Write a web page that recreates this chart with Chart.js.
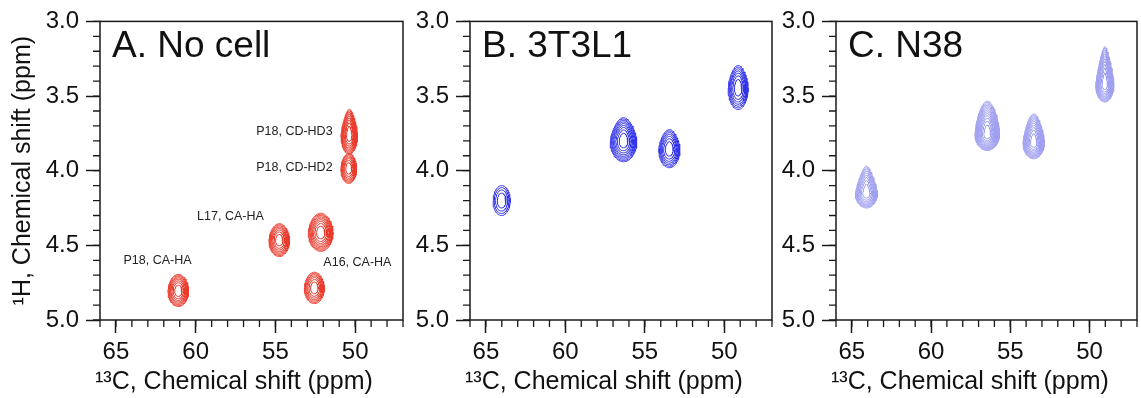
<!DOCTYPE html>
<html>
<head>
<meta charset="utf-8">
<script src="https://cdn.jsdelivr.net/npm/chart.js@4.4.1/dist/chart.umd.min.js"></script>
<style>
  html, body { margin: 0; padding: 0; background: #fff; }
  body { width: 1141px; height: 398px; position: relative; overflow: hidden; }
  canvas { position: absolute; top: 0; }
</style>
</head>
<body>
<canvas id="cA" width="405" height="398" style="left:0px"></canvas>
<canvas id="cB" width="372" height="398" style="left:405px"></canvas>
<canvas id="cC" width="364" height="398" style="left:777px"></canvas>
<script>
// ---- axis ticks ----
const xMajorTicks = [65, 60, 55, 50];
const yMajorTicks = [3.0, 3.5, 4.0, 4.5, 5.0];
const xRange = [47, 66];
const yRange = [3.0, 5.0];
const panelTitles = ['A. No cell', 'B. 3T3L1', 'C. N38'];
const xTitle = '¹³C, Chemical shift (ppm)';
const yTitle = '¹H, Chemical shift (ppm)';

// ---- Panel A: No cell (peak centres, ppm) ----
const peaksA_c13 = [50.37, 50.40, 54.76, 52.16, 52.56, 61.09];
const peaksA_h1  = [3.76, 3.985, 4.465, 4.415, 4.785, 4.805];
const peaksA_wC  = [0.52, 0.50, 0.65, 0.78, 0.63, 0.65];
const peaksA_hUp = [0.17, 0.10, 0.11, 0.13, 0.105, 0.11];
const peaksA_hDn = [0.13, 0.10, 0.11, 0.125, 0.105, 0.105];
const peaksA_lev = [9, 7, 8, 9, 7, 8];
const peaksA_tap = [0.35, 0.1, 0.1, 0.1, 0.1, 0.05];

// annotations (panel A)
const labelsA      = ['P18, CD-HD3', 'P18, CD-HD2', 'L17, CA-HA', 'P18, CA-HA', 'A16, CA-HA'];
const labelsA_c13  = [53.81, 53.81, 57.82, 62.39, 49.86];
const labelsA_h1   = [3.735, 3.98, 4.31, 4.603, 4.616];

// ---- Panel B: 3T3L1 ----
const peaksB_c13 = [64.01, 56.34, 53.46, 49.13];
const peaksB_h1  = [4.20, 3.80, 3.855, 3.445];
const peaksB_wC  = [0.54, 0.84, 0.67, 0.63];
const peaksB_hUp = [0.10, 0.155, 0.13, 0.15];
const peaksB_hDn = [0.10, 0.14, 0.125, 0.145];
const peaksB_lev = [4, 9, 7, 7];
const peaksB_tap = [0.05, 0.25, 0.2, 0.2];

// ---- Panel C: N38 ----
const peaksC_c13 = [64.08, 56.45, 53.52, 49.03];
const peaksC_h1  = [4.15, 3.755, 3.81, 3.42];
const peaksC_wC  = [0.70, 0.78, 0.68, 0.58];
const peaksC_hUp = [0.18, 0.22, 0.19, 0.25];
const peaksC_hDn = [0.10, 0.11, 0.11, 0.12];
const peaksC_lev = [9, 13, 11, 11];
const peaksC_tap = [0.45, 0.2, 0.3, 0.5];

const FONT = '"Liberation Sans", Arial, Helvetica, sans-serif';

// contour ring outline around a peak centre (shape only)
function ring(cx, cy, w, hu, hd, f, taper) {
  const pts = [];
  const N = 72;
  for (let i = 0; i <= N; i++) {
    const t = (i / N) * Math.PI * 2;
    const s = Math.sin(t), c = Math.cos(t);
    const upper = s > 0;
    const wf = upper ? (1 - taper * s) : 1;
    pts.push({ x: cx + w * f * c * wf, y: upper ? cy - hu * f * s : cy - hd * f * s });
  }
  return pts;
}

function contourSets(c13, h1, wC, hUp, hDn, lev, tap, color) {
  const sets = [];
  for (let p = 0; p < c13.length; p++) {
    const n = lev[p];
    for (let k = 0; k < n; k++) {
      const f = Math.sqrt(1 - k / n);
      sets.push({
        data: ring(c13[p], h1[p], wC[p], hUp[p], hDn[p], f, tap[p]),
        showLine: true, borderColor: color, borderWidth: 1,
        pointRadius: 0, fill: false, tension: 0
      });
    }
  }
  return sets;
}

const framePlugin = {
  id: 'frame',
  afterDraw(chart, args, opts) {
    const { ctx, chartArea: a, scales } = chart;
    ctx.save();
    ctx.strokeStyle = '#1a1a1a';
    ctx.lineWidth = 1.5;
    ctx.strokeRect(a.left, a.top, a.right - a.left, a.bottom - a.top);
    // minor ticks
    ctx.lineWidth = 1.3;
    ctx.beginPath();
    for (let v = xRange[0]; v <= xRange[1]; v++) {
      const px = scales.x.getPixelForValue(v);
      ctx.moveTo(px, a.bottom); ctx.lineTo(px, a.bottom + 7);
    }
    for (let i = 0; i <= 20; i++) {
      const v = yRange[0] + i * 0.1;
      const py = scales.y.getPixelForValue(v);
      ctx.moveTo(a.left, py); ctx.lineTo(a.left - 7, py);
    }
    ctx.stroke();
    // panel title
    ctx.fillStyle = '#111';
    ctx.font = '37px ' + FONT;
    ctx.textBaseline = 'alphabetic';
    ctx.textAlign = 'left';
    ctx.fillText(opts.title, a.left + 12, 57);
    // x axis title
    ctx.font = '25px ' + FONT;
    ctx.fillText(xTitle, a.left - 5, 389);
    // annotations
    if (opts.labels) {
      ctx.font = '12.5px ' + FONT;
      ctx.textAlign = 'center';
      ctx.textBaseline = 'middle';
      ctx.fillStyle = '#222';
      opts.labels.forEach((t, i) => {
        ctx.fillText(t, scales.x.getPixelForValue(opts.lx[i]), scales.y.getPixelForValue(opts.ly[i]));
      });
    }
    ctx.restore();
  }
};

function makePanel(id, datasets, yWidth, rightPad, showYTitle, frameOpts) {
  return new Chart(document.getElementById(id), {
    type: 'scatter',
    data: { datasets },
    options: {
      animation: false, responsive: false, maintainAspectRatio: false,
      layout: { padding: { top: 18, right: rightPad, left: 0, bottom: 0 } },
      plugins: { legend: { display: false }, tooltip: { enabled: false }, frame: frameOpts },
      scales: {
        x: {
          type: 'linear', position: 'bottom', min: xRange[0], max: xRange[1], reverse: true,
          afterBuildTicks: s => { s.ticks = xMajorTicks.map(v => ({ value: v })); },
          afterFit: s => { s.height = 78; },
          ticks: { color: '#111', font: { size: 24, family: FONT }, padding: 5, maxRotation: 0, autoSkip: false,
                   callback: v => String(v) },
          grid: { drawOnChartArea: false, drawTicks: true, tickLength: 13, tickWidth: 1.5, tickColor: '#1a1a1a' },
          border: { display: false },
          title: { display: false }
        },
        y: {
          type: 'linear', position: 'left', min: yRange[0], max: yRange[1], reverse: true,
          afterBuildTicks: s => { s.ticks = yMajorTicks.map(v => ({ value: v })); },
          afterFit: s => { s.width = yWidth; },
          ticks: { color: '#111', font: { size: 24, family: FONT }, padding: 7, autoSkip: false,
                   callback: v => Number(v).toFixed(1) },
          grid: { drawOnChartArea: false, drawTicks: true, tickLength: 14, tickWidth: 1.5, tickColor: '#1a1a1a' },
          border: { display: false },
          title: { display: showYTitle, text: yTitle, color: '#111',
                   font: { size: 25, family: FONT }, padding: { top: 8, bottom: 0 } }
        }
      }
    },
    plugins: [framePlugin]
  });
}

makePanel('cA',
  contourSets(peaksA_c13, peaksA_h1, peaksA_wC, peaksA_hUp, peaksA_hDn, peaksA_lev, peaksA_tap, 'rgb(234,60,46)'),
  100, 2, true,
  { title: panelTitles[0], labels: labelsA, lx: labelsA_c13, ly: labelsA_h1 });

makePanel('cB',
  contourSets(peaksB_c13, peaksB_h1, peaksB_wC, peaksB_hUp, peaksB_hDn, peaksB_lev, peaksB_tap, 'rgb(52,52,235)'),
  65, 5, false,
  { title: panelTitles[1] });

makePanel('cC',
  contourSets(peaksC_c13, peaksC_h1, peaksC_wC, peaksC_hUp, peaksC_hDn, peaksC_lev, peaksC_tap, 'rgb(160,160,240)'),
  59, 4, false,
  { title: panelTitles[2] });
</script>
</body>
</html>
